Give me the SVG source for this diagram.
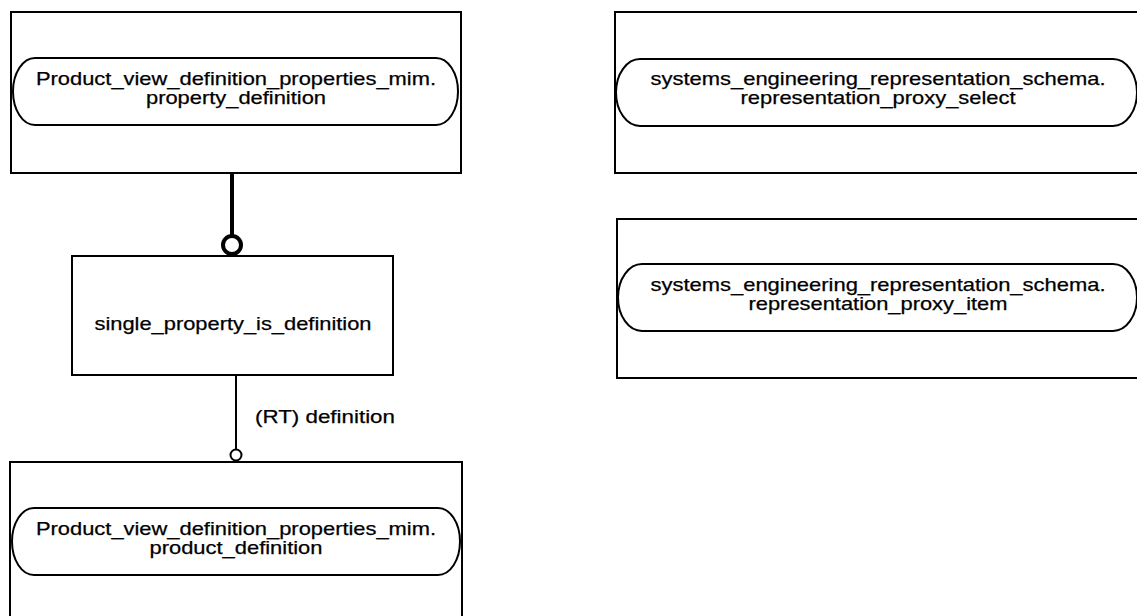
<svg xmlns="http://www.w3.org/2000/svg" width="1137" height="616" viewBox="0 0 1137 616">
<style>
.box{fill:#fff;stroke:#000;stroke-width:2}
.pill{fill:#fff;stroke:#000;stroke-width:2}
.t{font-family:"Liberation Sans",Arial,sans-serif;font-size:18.5px;fill:#000;text-anchor:middle;stroke:#000;stroke-width:0.25}
.lbl{font-family:"Liberation Sans",Arial,sans-serif;font-size:19px;fill:#000;stroke:#000;stroke-width:0.25}
.thick{stroke:#000;stroke-width:4;fill:none}
.thin{stroke:#000;stroke-width:2;fill:none}
</style>
<rect width="1137" height="616" fill="#fff"/>
<g id="connectors">
<line class="thick" x1="232" y1="173" x2="232" y2="236"/>
<circle cx="232" cy="245" r="9" fill="#fff" stroke="#000" stroke-width="4"/>
<line class="thin" x1="236" y1="375" x2="236" y2="449.5"/>
<circle cx="236" cy="455" r="5.5" fill="#fff" stroke="#000" stroke-width="2"/>
<text class="lbl" x="255" y="423" textLength="140" lengthAdjust="spacingAndGlyphs">(RT) definition</text>
</g>
<g id="node_property_definition">
<rect class="box" x="11" y="12" width="450" height="161"/>
<rect class="pill" x="13" y="58" width="445" height="67" rx="22" ry="33.5"/>
<text class="t" x="236" y="85" textLength="400" lengthAdjust="spacingAndGlyphs">Product_view_definition_properties_mim.</text>
<text class="t" x="236" y="104" textLength="180" lengthAdjust="spacingAndGlyphs">property_definition</text>
</g>
<g id="node_representation_proxy_select">
<rect class="box" x="615" y="12" width="526" height="161"/>
<rect class="pill" x="616" y="59" width="521" height="67" rx="24" ry="33.5"/>
<text class="t" x="878" y="85" textLength="455" lengthAdjust="spacingAndGlyphs">systems_engineering_representation_schema.</text>
<text class="t" x="878" y="104" textLength="275" lengthAdjust="spacingAndGlyphs">representation_proxy_select</text>
</g>
<g id="node_representation_proxy_item">
<rect class="box" x="617" y="219" width="524" height="159"/>
<rect class="pill" x="618" y="264" width="519" height="67" rx="24" ry="33.5"/>
<text class="t" x="878" y="291" textLength="455" lengthAdjust="spacingAndGlyphs">systems_engineering_representation_schema.</text>
<text class="t" x="878" y="310" textLength="259" lengthAdjust="spacingAndGlyphs">representation_proxy_item</text>
</g>
<g id="node_single_property_is_definition">
<rect class="box" x="72" y="256" width="321" height="119"/>
<text class="t" x="233" y="330" textLength="277" lengthAdjust="spacingAndGlyphs">single_property_is_definition</text>
</g>
<g id="node_product_definition">
<rect class="box" x="10" y="462" width="452" height="170"/>
<rect class="pill" x="12" y="508" width="448" height="67" rx="22" ry="33.5"/>
<text class="t" x="236" y="535" textLength="400" lengthAdjust="spacingAndGlyphs">Product_view_definition_properties_mim.</text>
<text class="t" x="236" y="554" textLength="173" lengthAdjust="spacingAndGlyphs">product_definition</text>
</g>
</svg>
